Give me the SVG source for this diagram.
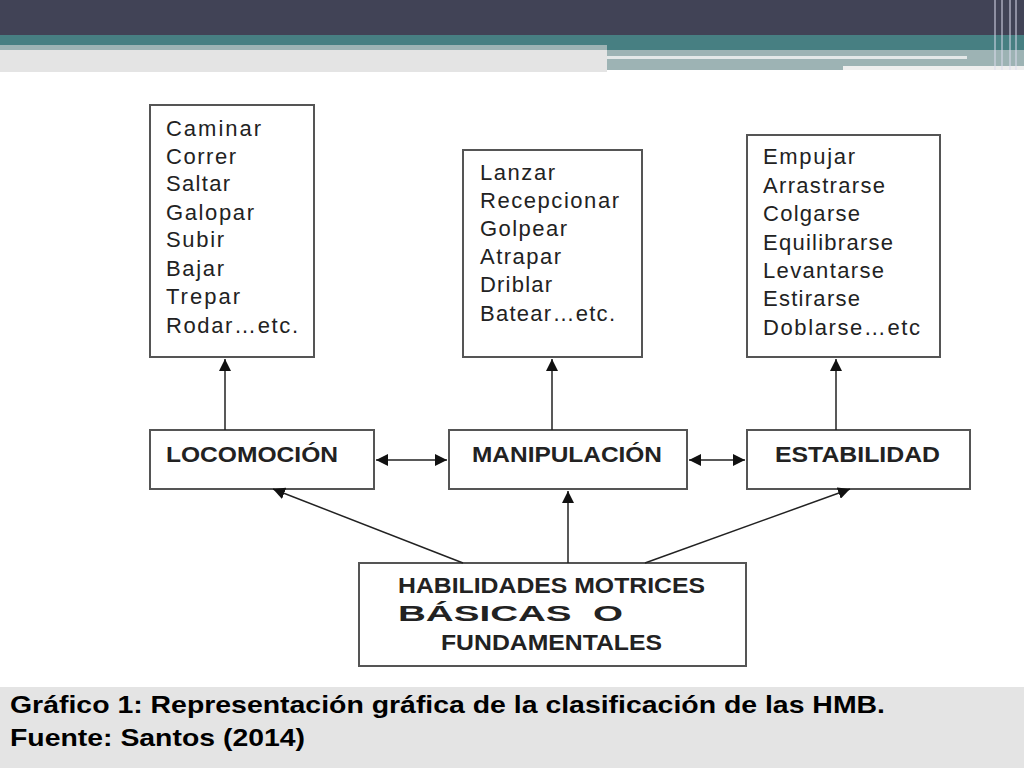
<svg xmlns="http://www.w3.org/2000/svg" width="1024" height="768" viewBox="0 0 1024 768">
<style>
.box{fill:#fff;stroke:#555;stroke-width:2}
.t{font-family:"Liberation Sans",Arial,sans-serif;font-size:22px;fill:#222}
.b{font-family:"Liberation Sans",Arial,sans-serif;font-size:22px;font-weight:bold;fill:#222}
.c{stroke:#222;stroke-width:1.5;fill:none}
.cap{font-family:"Liberation Sans",Arial,sans-serif;font-size:24px;font-weight:bold;fill:#000}
</style>
<defs>
<marker id="a" viewBox="0 0 10 10" refX="10" refY="5" markerWidth="12" markerHeight="12" markerUnits="userSpaceOnUse" orient="auto-start-reverse"><path d="M0,0 L10,5 L0,10 Z" fill="#111"/></marker>
</defs>
<rect width="1024" height="768" fill="#fff"/>
<rect width="1024" height="35" fill="#414356"/>
<rect y="35" width="1024" height="15" fill="#477f82"/>
<rect y="45" width="607" height="5" fill="#9db3b4"/>
<rect y="50" width="607" height="22" fill="#e4e4e4"/>
<rect x="607" y="50" width="417" height="20" fill="#9db3b4"/>
<rect x="607" y="56" width="360" height="3" fill="#e4e8e8"/>
<rect x="843" y="66" width="181" height="4" fill="#eee"/>
<g stroke="#dde" stroke-width="1"><line x1="995" y1="0" x2="995" y2="70"/><line x1="1002" y1="0" x2="1002" y2="70"/><line x1="1010" y1="0" x2="1010" y2="70"/><line x1="1016" y1="0" x2="1016" y2="70"/></g>
<rect y="687" width="1024" height="81" fill="#e4e4e4"/>
<text class="cap" x="10" y="713" textLength="875" lengthAdjust="spacingAndGlyphs">Gráfico 1: Representación gráfica de la clasificación de las HMB.</text>
<text class="cap" x="10" y="746" textLength="295" lengthAdjust="spacingAndGlyphs">Fuente: Santos (2014)</text>
<g id="list1"><rect class="box" x="150" y="105" width="164" height="252"/>
<text class="t" x="166" y="136" textLength="95">Caminar</text><text class="t" x="166" y="164" textLength="70">Correr</text><text class="t" x="166" y="191" textLength="64">Saltar</text><text class="t" x="166" y="220" textLength="88">Galopar</text><text class="t" x="166" y="247" textLength="58">Subir</text><text class="t" x="166" y="276" textLength="58">Bajar</text><text class="t" x="166" y="304" textLength="74">Trepar</text><text class="t" x="166" y="333" textLength="132">Rodar…etc.</text></g>
<g id="list2"><rect class="box" x="463" y="150" width="179" height="207"/>
<text class="t" x="480" y="180" textLength="75">Lanzar</text><text class="t" x="480" y="208" textLength="139">Recepcionar</text><text class="t" x="480" y="236" textLength="87">Golpear</text><text class="t" x="480" y="264" textLength="81">Atrapar</text><text class="t" x="480" y="292" textLength="72">Driblar</text><text class="t" x="480" y="321" textLength="135">Batear…etc.</text></g>
<g id="list3"><rect class="box" x="747" y="135" width="193" height="222"/>
<text class="t" x="763" y="164" textLength="92">Empujar</text><text class="t" x="763" y="193" textLength="122">Arrastrarse</text><text class="t" x="763" y="221" textLength="97">Colgarse</text><text class="t" x="763" y="250" textLength="130">Equilibrarse</text><text class="t" x="763" y="278" textLength="121">Levantarse</text><text class="t" x="763" y="306" textLength="97">Estirarse</text><text class="t" x="763" y="335" textLength="157">Doblarse…etc</text></g>
<g id="loco"><rect class="box" x="150" y="430" width="224" height="59"/><text class="b" x="166" y="462" textLength="172" lengthAdjust="spacingAndGlyphs">LOCOMOCIÓN</text></g>
<g id="mani"><rect class="box" x="449" y="430" width="238" height="59"/><text class="b" x="472" y="462" textLength="190" lengthAdjust="spacingAndGlyphs">MANIPULACIÓN</text></g>
<g id="esta"><rect class="box" x="747" y="430" width="223" height="59"/><text class="b" x="775" y="462" textLength="165" lengthAdjust="spacingAndGlyphs">ESTABILIDAD</text></g>
<g id="hmb"><rect class="box" x="359" y="563" width="387" height="103"/>
<text class="b" x="398" y="593" textLength="307" lengthAdjust="spacingAndGlyphs">HABILIDADES MOTRICES</text>
<text class="b" x="398" y="621" textLength="225" lengthAdjust="spacingAndGlyphs" xml:space="preserve">BÁSICAS  O</text>
<text class="b" x="441" y="650" textLength="221" lengthAdjust="spacingAndGlyphs">FUNDAMENTALES</text></g>
<g id="connectors">
<line class="c" x1="225" y1="430" x2="225" y2="359" marker-end="url(#a)"/>
<line class="c" x1="552" y1="430" x2="552" y2="359" marker-end="url(#a)"/>
<line class="c" x1="836" y1="430" x2="836" y2="359" marker-end="url(#a)"/>
<line class="c" x1="376" y1="460" x2="447" y2="460" marker-start="url(#a)" marker-end="url(#a)"/>
<line class="c" x1="689" y1="460" x2="745" y2="460" marker-start="url(#a)" marker-end="url(#a)"/>
<line class="c" x1="463" y1="563" x2="273" y2="489" marker-end="url(#a)"/>
<line class="c" x1="568" y1="563" x2="568" y2="491" marker-end="url(#a)"/>
<line class="c" x1="645" y1="563" x2="850" y2="489" marker-end="url(#a)"/>
</g>
</svg>
